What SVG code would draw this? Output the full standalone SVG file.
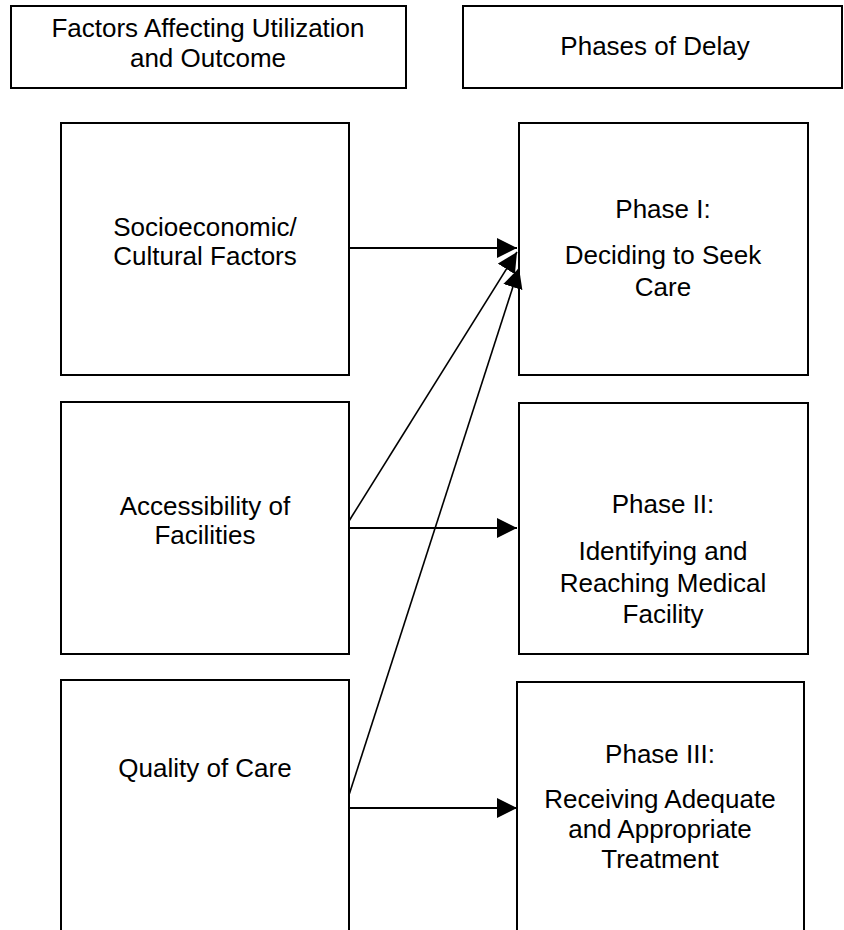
<svg xmlns="http://www.w3.org/2000/svg" width="844" height="930" viewBox="0 0 844 930">
<style>
.box{fill:#fff;stroke:#000;stroke-width:2}
.t{font-family:"Liberation Sans",Arial,sans-serif;font-size:26px;fill:#000;text-anchor:middle}
.c{stroke:#000;stroke-width:2;fill:none}
.d{stroke:#000;stroke-width:1.6;fill:none}
</style>
<defs>
<marker id="ah" viewBox="0 0 20 20" refX="20" refY="10" markerWidth="20" markerHeight="20" markerUnits="userSpaceOnUse" orient="auto">
<path d="M0,0 L20,10 L0,20 Z" fill="#000"/>
</marker>
</defs>
<rect width="844" height="930" fill="#fff"/>
<g id="hdr-factors">
<rect class="box" x="11" y="6" width="395" height="82"/>
<text class="t" x="208" y="37">Factors Affecting Utilization</text>
<text class="t" x="208" y="67">and Outcome</text>
</g>
<g id="hdr-phases">
<rect class="box" x="463" y="6" width="379" height="82"/>
<text class="t" x="655" y="55">Phases of Delay</text>
</g>
<g id="socio">
<rect class="box" x="61" y="123" width="288" height="252"/>
<text class="t" x="205" y="236">Socioeconomic/</text>
<text class="t" x="205" y="265">Cultural Factors</text>
</g>
<g id="phase1">
<rect class="box" x="519" y="123" width="289" height="252"/>
<text class="t" x="663" y="218">Phase I:</text>
<text class="t" x="663" y="264">Deciding to Seek</text>
<text class="t" x="663" y="296">Care</text>
</g>
<g id="access">
<rect class="box" x="61" y="402" width="288" height="252"/>
<text class="t" x="205" y="515">Accessibility of</text>
<text class="t" x="205" y="544">Facilities</text>
</g>
<g id="phase2">
<rect class="box" x="519" y="403" width="289" height="251"/>
<text class="t" x="663" y="513">Phase II:</text>
<text class="t" x="663" y="560">Identifying and</text>
<text class="t" x="663" y="592">Reaching Medical</text>
<text class="t" x="663" y="623">Facility</text>
</g>
<g id="quality">
<rect class="box" x="61" y="680" width="288" height="270"/>
<text class="t" x="205" y="777">Quality of Care</text>
</g>
<g id="phase3">
<rect class="box" x="517" y="682" width="287" height="270"/>
<text class="t" x="660" y="763">Phase III:</text>
<text class="t" x="660" y="808">Receiving Adequate</text>
<text class="t" x="660" y="838">and Appropriate</text>
<text class="t" x="660" y="868">Treatment</text>
</g>
<g id="connectors">
<line class="c" x1="349" y1="248" x2="517" y2="248" marker-end="url(#ah)"/>
<line class="d" x1="349" y1="521" x2="517" y2="252" marker-end="url(#ah)"/>
<line class="d" x1="349" y1="795" x2="519" y2="268" marker-end="url(#ah)"/>
<line class="c" x1="349" y1="528" x2="517" y2="528" marker-end="url(#ah)"/>
<line class="c" x1="349" y1="808" x2="517" y2="808" marker-end="url(#ah)"/>
</g>
</svg>
